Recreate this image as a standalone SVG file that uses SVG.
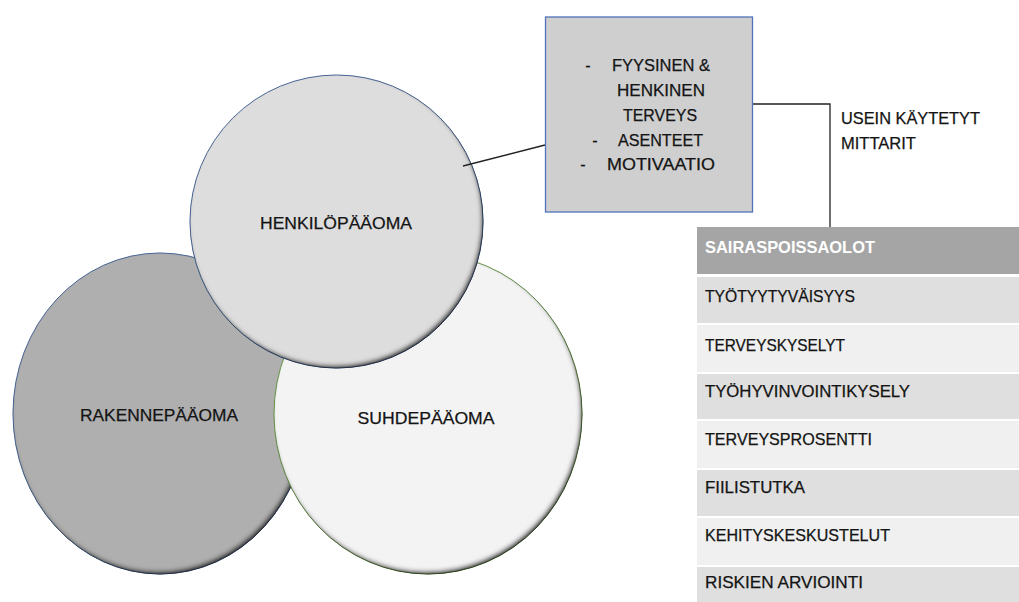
<svg xmlns="http://www.w3.org/2000/svg" width="1019" height="602" viewBox="0 0 1019 602">
<style>
  text { font-family: "Liberation Sans", Arial, sans-serif; fill: #141414; stroke: #141414; stroke-width: 0.25; }
  .lbl { font-size: 17px; text-anchor: middle; }
  .box-t { font-size: 16px; text-anchor: middle; }
  .row-t { font-size: 16.5px; }
  .hdr-t { font-size: 16.5px; font-weight: bold; fill: #ffffff; stroke: none; }
  .conn { fill: none; stroke: #222222; stroke-width: 1.3; }
  .dark { fill: #dfdfdf; }
  .light { fill: #eff0ef; }
</style>
<defs>
  <filter id="inset" x="-10%" y="-10%" width="120%" height="120%">
    <feComponentTransfer in="SourceAlpha" result="inv">
      <feFuncA type="table" tableValues="1 0"/>
    </feComponentTransfer>
    <feGaussianBlur in="inv" stdDeviation="2.2" result="blur"/>
    <feOffset in="blur" dx="-2" dy="-3" result="off"/>
    <feFlood flood-color="#1e1e1e" flood-opacity="1" result="col"/>
    <feComposite in="col" in2="off" operator="in" result="sh"/>
    <feComposite in="sh" in2="SourceAlpha" operator="in" result="shin"/>
    <feMerge>
      <feMergeNode in="SourceGraphic"/>
      <feMergeNode in="shin"/>
    </feMerge>
  </filter>
</defs>
<rect width="1019" height="602" fill="#ffffff"/>

<g id="rakennepaaoma">
  <ellipse cx="160" cy="413.5" rx="147" ry="160.5" fill="#afafaf" stroke="#4a6898" stroke-width="1" filter="url(#inset)"/>
  <text class="lbl" x="159" y="421" textLength="158" lengthAdjust="spacingAndGlyphs">RAKENNEPÄÄOMA</text>
</g>

<g id="suhdepaaoma">
  <ellipse cx="428" cy="414" rx="154" ry="160" fill="#f3f3f3" stroke="#6f9a4f" stroke-width="1" filter="url(#inset)"/>
  <text class="lbl" x="426" y="424" textLength="137" lengthAdjust="spacingAndGlyphs">SUHDEPÄÄOMA</text>
</g>

<g id="henkilopaaoma">
  <ellipse cx="336.5" cy="221.5" rx="146.5" ry="146.5" fill="#dedddd" stroke="#4a6898" stroke-width="1" filter="url(#inset)"/>
  <text class="lbl" x="336" y="229" textLength="152" lengthAdjust="spacingAndGlyphs">HENKILÖPÄÄOMA</text>
</g>

<g id="connectors">
  <line class="conn" x1="463" y1="166" x2="545" y2="145"/>
  <polyline class="conn" points="753,104 830,104 830,227"/>
</g>

<g id="tekijat">
  <rect x="545.5" y="17" width="207" height="195" fill="#d0cfd0" stroke="#4f72b8" stroke-width="1.3"/>
  <text class="box-t" x="588" y="71">-</text>
  <text class="box-t" x="661" y="71" textLength="98" lengthAdjust="spacingAndGlyphs">FYYSINEN &amp;</text>
  <text class="box-t" x="661" y="96" textLength="88" lengthAdjust="spacingAndGlyphs">HENKINEN</text>
  <text class="box-t" x="660" y="121" textLength="74" lengthAdjust="spacingAndGlyphs">TERVEYS</text>
  <text class="box-t" x="595" y="146">-</text>
  <text class="box-t" x="660.5" y="146" textLength="85" lengthAdjust="spacingAndGlyphs">ASENTEET</text>
  <text class="box-t" x="583" y="170">-</text>
  <text class="box-t" x="661" y="170" textLength="108" lengthAdjust="spacingAndGlyphs">MOTIVAATIO</text>
</g>

<g id="mittarit-otsikko">
  <text class="row-t" x="841" y="124" textLength="139" lengthAdjust="spacingAndGlyphs">USEIN KÄYTETYT</text>
  <text class="row-t" x="841" y="149">MITTARIT</text>
</g>

<g id="mittarit-taulukko">
  <rect x="697" y="227" width="322" height="47" fill="#a5a5a5"/>
  <text class="hdr-t" x="705" y="253" textLength="170" lengthAdjust="spacingAndGlyphs">SAIRASPOISSAOLOT</text>

  <rect class="dark" x="697" y="277" width="322" height="46"/>
  <text class="row-t" x="705" y="302" textLength="150" lengthAdjust="spacingAndGlyphs">TYÖTYYTYVÄISYYS</text>

  <rect class="light" x="697" y="325" width="322" height="47"/>
  <text class="row-t" x="705" y="351" textLength="140" lengthAdjust="spacingAndGlyphs">TERVEYSKYSELYT</text>

  <rect class="dark" x="697" y="374" width="322" height="45"/>
  <text class="row-t" x="705" y="397" textLength="205" lengthAdjust="spacingAndGlyphs">TYÖHYVINVOINTIKYSELY</text>

  <rect class="light" x="697" y="421" width="322" height="47"/>
  <text class="row-t" x="705" y="445" textLength="167" lengthAdjust="spacingAndGlyphs">TERVEYSPROSENTTI</text>

  <rect class="dark" x="697" y="470" width="322" height="46"/>
  <text class="row-t" x="705" y="493" textLength="100" lengthAdjust="spacingAndGlyphs">FIILISTUTKA</text>

  <rect class="light" x="697" y="518" width="322" height="47"/>
  <text class="row-t" x="705" y="541" textLength="185" lengthAdjust="spacingAndGlyphs">KEHITYSKESKUSTELUT</text>

  <rect class="dark" x="697" y="567" width="322" height="35"/>
  <text class="row-t" x="705" y="588" textLength="158" lengthAdjust="spacingAndGlyphs">RISKIEN ARVIOINTI</text>
</g>
</svg>
